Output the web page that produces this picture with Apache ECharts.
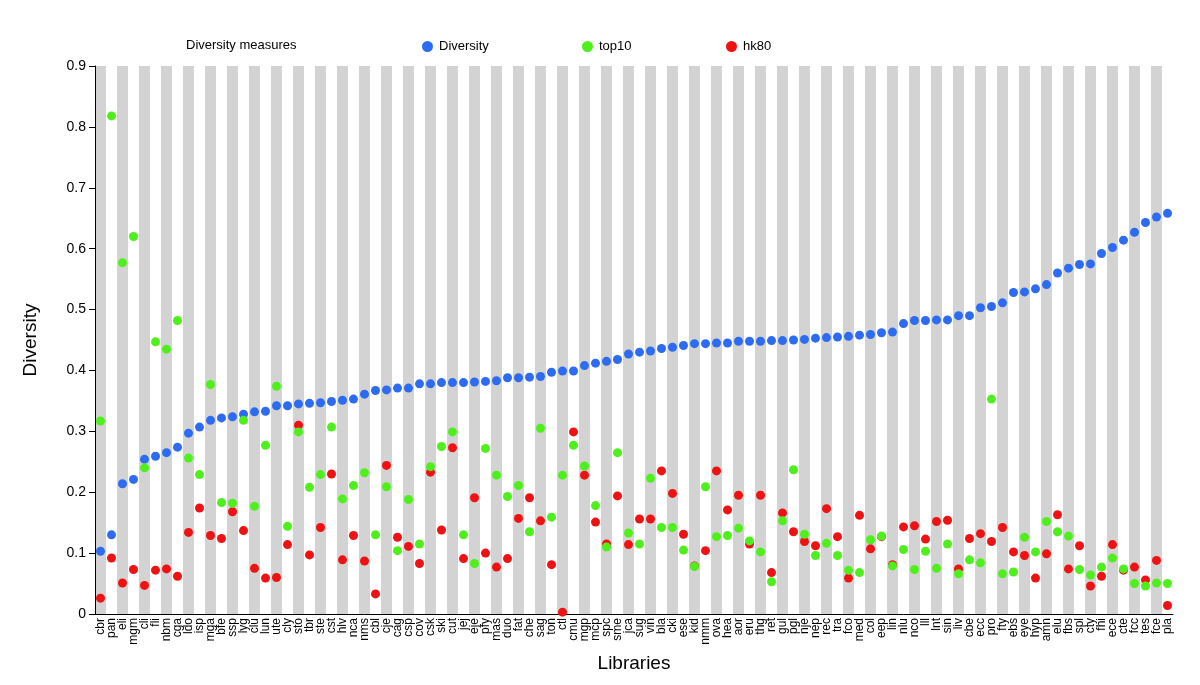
<!DOCTYPE html>
<html>
<head>
<meta charset="utf-8">
<script src="https://cdn.jsdelivr.net/npm/echarts@6/dist/echarts.min.js"></script>
<style>
  html, body { margin: 0; padding: 0; background: #fff; }
  #chart { width: 1200px; height: 685px; }
</style>
</head>
<body>
<div id="chart"></div>
<script>
var libraries = ['cbr','pan','eli','mgm','cli','fli','nbm','cga','ldo','isp','mga','bfe','ssp','lyg','clu','lun','ute',
  'cly','sto','tbr','ste','cst','hlv','nca','nms','cbl','cje','cag','csp','cov','csk','ski','cut',
  'jej','eje','pfy','mas','duo','fat','che','sag','ton','ctl','cmu','mgp','mcp','spc','sme','jca','sug',
  'vin','bla','cki','ese','kid','nmm','ova','hea','aor','eru','thg','ret','gul','pgl','nje','nep',
  'rec','tra','fco','med','col','eep','lin','nlu','nco','lll','lnt','sin','liv','cbe','ecc','pro',
  'fty','ebs','eye','hyp','amn','elu','fbs','spl','cty','fhi','ece','cte','fcc','tes','fce','pla'];

var diversity = [0.103,0.130,0.214,0.221,0.254,0.259,0.265,0.274,0.297,0.307,0.318,0.322,0.324,0.328,0.332,0.333,0.342,
  0.342,0.345,0.346,0.347,0.349,0.351,0.353,0.361,0.367,0.368,0.371,0.371,0.378,0.378,0.380,0.380,
  0.380,0.381,0.382,0.383,0.388,0.388,0.389,0.390,0.397,0.399,0.399,0.408,0.412,0.415,0.418,0.427,0.430,
  0.432,0.436,0.438,0.441,0.444,0.444,0.445,0.445,0.448,0.448,0.448,0.449,0.449,0.450,0.451,0.453,
  0.454,0.455,0.456,0.458,0.459,0.462,0.463,0.477,0.482,0.482,0.483,0.483,0.490,0.490,0.503,0.505,
  0.511,0.528,0.529,0.534,0.541,0.560,0.568,0.574,0.575,0.592,0.602,0.614,0.627,0.643,0.652,0.658];

var top10 = [0.317,0.818,0.577,0.620,0.240,0.447,0.435,0.482,0.256,0.229,0.377,0.183,0.182,0.318,0.177,0.277,0.374,
  0.144,0.299,0.208,0.229,0.307,0.189,0.211,0.232,0.130,0.209,0.104,0.188,0.115,0.242,0.275,0.299,
  0.130,0.083,0.272,0.228,0.193,0.211,0.135,0.305,0.159,0.228,0.277,0.243,0.178,0.110,0.265,0.133,0.115,
  0.223,0.142,0.142,0.105,0.078,0.209,0.127,0.129,0.141,0.120,0.102,0.053,0.153,0.237,0.131,0.096,
  0.116,0.096,0.072,0.068,0.122,0.128,0.079,0.106,0.073,0.103,0.075,0.115,0.066,0.089,0.084,0.353,
  0.066,0.069,0.126,0.102,0.152,0.135,0.128,0.073,0.064,0.077,0.092,0.074,0.050,0.046,0.051,0.050];

var hk80 = [0.026,0.092,0.051,0.073,0.047,0.072,0.074,0.062,0.134,0.174,0.129,0.124,0.168,0.137,0.075,0.059,0.060,
  0.114,0.310,0.097,0.142,0.230,0.089,0.129,0.087,0.033,0.244,0.126,0.111,0.083,0.233,0.138,0.273,
  0.091,0.191,0.100,0.077,0.091,0.157,0.191,0.153,0.081,0.003,0.299,0.228,0.151,0.115,0.194,0.114,0.156,
  0.156,0.235,0.198,0.131,0.079,0.104,0.235,0.171,0.195,0.115,0.195,0.068,0.166,0.135,0.119,0.112,
  0.173,0.127,0.059,0.162,0.107,0.127,0.081,0.143,0.145,0.123,0.152,0.154,0.074,0.124,0.132,0.119,
  0.142,0.102,0.096,0.059,0.099,0.163,0.074,0.112,0.046,0.062,0.114,0.072,0.077,0.056,0.088,0.014];

var yTicks = [0, 0.1, 0.2, 0.3, 0.4, 0.5, 0.6, 0.7, 0.8, 0.9];

var blue = '#2d6cf2', green = '#4ef01c', red = '#f01212';
var font = 'Liberation Sans, Arial, Helvetica, sans-serif';

var myChart = echarts.init(document.getElementById('chart'));

function legendAt(name, x) {
  return {
    left: x, top: 35,
    data: [name],
    icon: 'circle',
    itemWidth: 11, itemHeight: 11,
    itemGap: 0,
    textStyle: { fontFamily: font, fontSize: 13, color: '#000', padding: [0, 0, 0, 1] }
  };
}

var option = {
  animation: false,
  backgroundColor: '#fff',
  title: {
    text: 'Diversity measures',
    left: 181, top: 34,
    textStyle: { fontFamily: font, fontSize: 13, fontWeight: 'normal', color: '#000' }
  },
  legend: [legendAt('Diversity', 417), legendAt('top10', 577), legendAt('hk80', 721)],
  grid: { left: 95, right: 27, top: 66, bottom: 71 },
  xAxis: {
    type: 'category',
    data: libraries,
    boundaryGap: true,
    name: 'Libraries',
    nameLocation: 'middle',
    nameGap: 40,
    nameTextStyle: { fontFamily: font, fontSize: 19, color: '#000' },
    axisLine: { lineStyle: { color: '#000', width: 1 } },
    axisTick: { show: false },
    axisLabel: {
      interval: 0, rotate: 90, margin: 4,
      fontFamily: font, fontSize: 12, color: '#000'
    },
    splitLine: { show: false },
    splitArea: {
      show: true, interval: 0,
      areaStyle: { color: ['#d3d3d3', '#ffffff'] }
    }
  },
  yAxis: {
    type: 'value',
    min: 0, max: 0.9, interval: 0.1,
    name: 'Diversity',
    nameLocation: 'middle',
    nameGap: 55,
    nameRotate: 90,
    nameTextStyle: { fontFamily: font, fontSize: 19, color: '#000' },
    axisLine: { show: true, lineStyle: { color: '#000', width: 1 } },
    axisTick: { show: true, length: 6, lineStyle: { color: '#000' } },
    axisLabel: {
      margin: 9, fontFamily: font, fontSize: 14, color: '#000',
      formatter: function (v) {
        var t = yTicks.find(function (k) { return Math.abs(k - v) < 1e-9; });
        return t === undefined ? '' : String(t);
      }
    },
    splitLine: { show: false }
  },
  series: [
    {
      name: 'Diversity', type: 'scatter', symbol: 'circle', symbolSize: 9,
      itemStyle: { color: blue, opacity: 1 },
      data: diversity, z: 3
    },
    {
      name: 'hk80', type: 'scatter', symbol: 'circle', symbolSize: 9,
      itemStyle: { color: red, opacity: 1 },
      data: hk80, z: 3
    },
    {
      name: 'top10', type: 'scatter', symbol: 'circle', symbolSize: 9,
      itemStyle: { color: green, opacity: 1 },
      data: top10, z: 4
    }
  ]
};

myChart.setOption(option);
</script>
</body>
</html>
